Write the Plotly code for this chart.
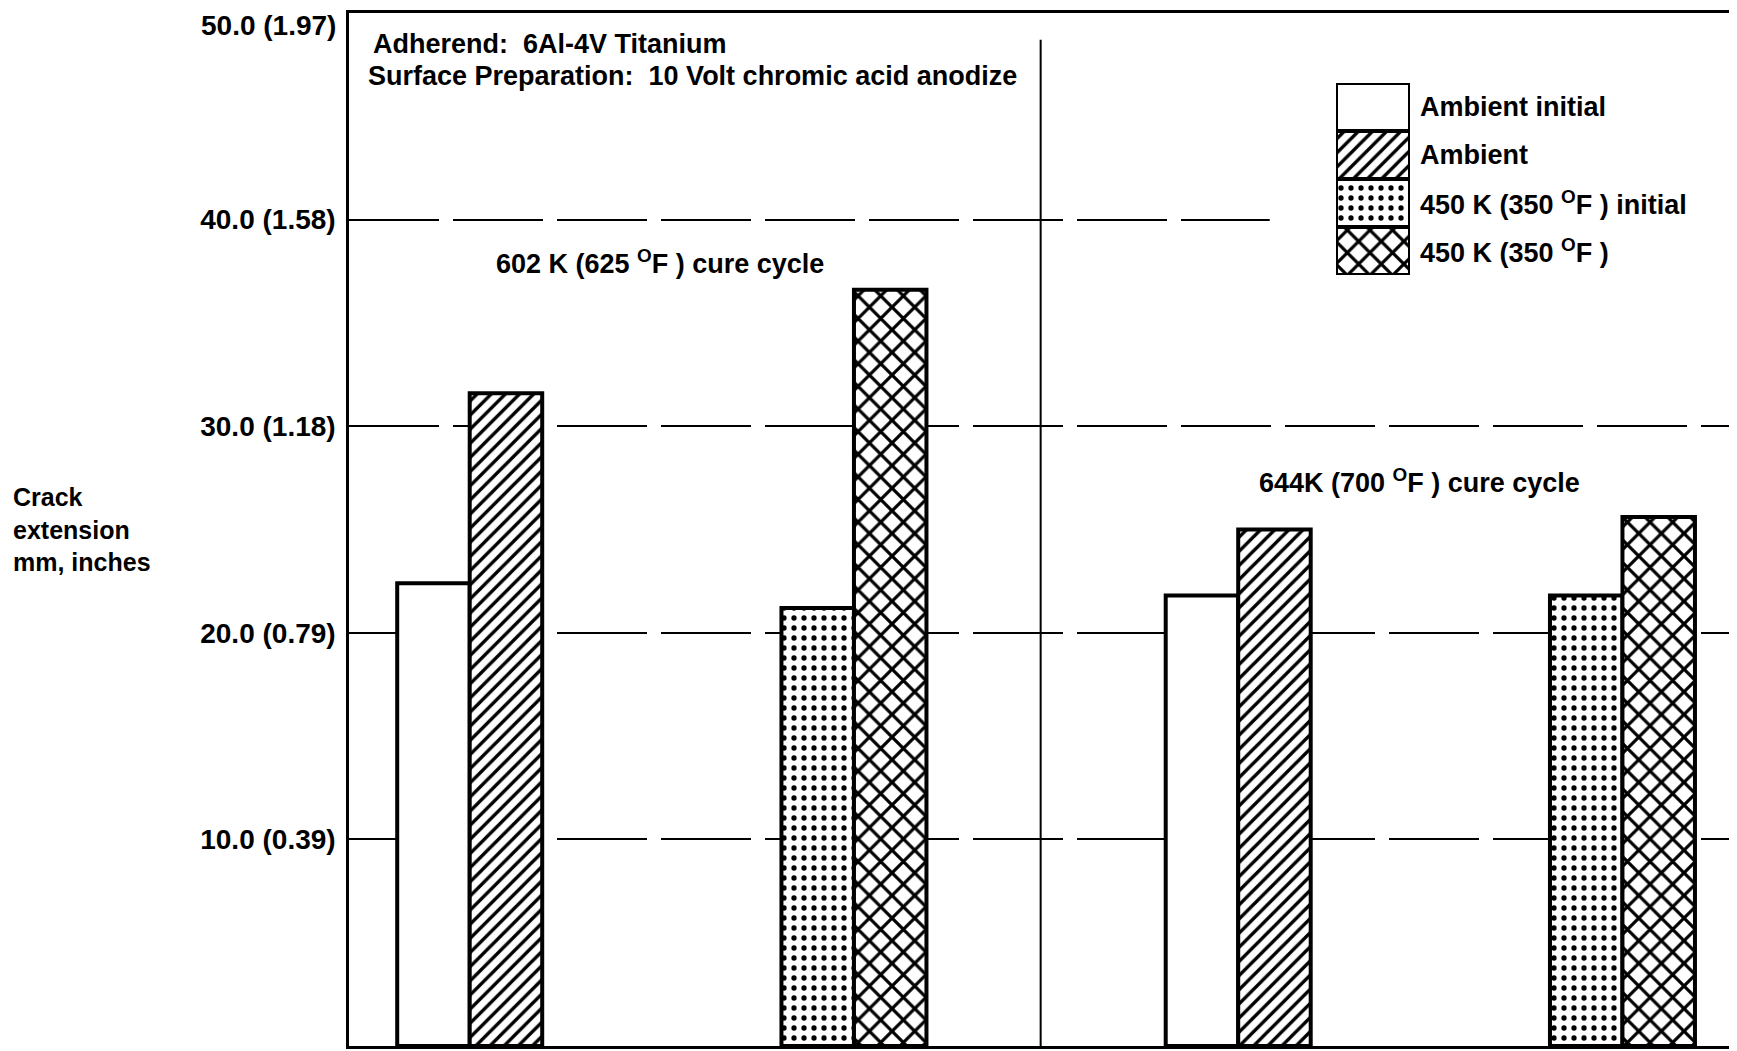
import plotly.graph_objects as go

# ---------------- data ----------------
cure_cycles = ["602 K (625 <sup>O</sup>F ) cure cycle", "644K (700 <sup>O</sup>F ) cure cycle"]
series_names = ["Ambient initial", "Ambient",
                "450 K (350 <sup>O</sup>F ) initial", "450 K (350 <sup>O</sup>F )"]
ambient_initial = [22.4, 21.8]
ambient = [31.6, 25.0]
hot_initial = [21.2, 21.8]
hot = [36.6, 25.6]
tick_vals = [10, 20, 30, 40]
tick_text = ["10.0 (0.39)", "20.0 (0.79)", "30.0 (1.18)", "40.0 (1.58)"]
top_val = 50
top_text = "50.0 (1.97)"
ytitle = "Crack<br>extension<br>mm, inches"
note1 = "Adherend:  6Al-4V Titanium"
note2 = "Surface Preparation:  10 Volt chromic acid anodize"

# ---------------- layout / style ----------------
OFF = 8                              # browser body margin
PAGE_W, PAGE_H = 1737, 1051
W, H = PAGE_W - OFF, PAGE_H - OFF
ML = 349 - OFF
MT = 5
MB = H - (1046 - OFF)
MR = 0
FONT = "Liberation Sans, Arial, sans-serif"
BW = 72.5                            # px per bar unit
XMAX = (W - ML - MR) / BW
GROUP_STEP = 5.3
FIRST = 1.165
LW = 4

patterns = [
    dict(shape="", fgcolor="black", bgcolor="white"),
    dict(shape="/", fgcolor="black", bgcolor="white", size=10, solidity=0.34, fgopacity=1),
    dict(shape=".", fgcolor="black", bgcolor="white", size=10, solidity=0.22, fgopacity=1),
    dict(shape="x", fgcolor="black", bgcolor="white", size=16, solidity=0.36, fgopacity=1),
]
series_vals = [ambient_initial, ambient, hot_initial, hot]

fig = go.Figure()

# slot = 2*cure_cycle + test_temperature ; s = initial / after test
for k, (name, vals) in enumerate(zip(series_names, series_vals)):
    t = k // 2
    s = k % 2
    xs = [FIRST + GROUP_STEP * (2 * c + t) + s for c in range(len(cure_cycles))]
    fig.add_trace(go.Bar(
        x=xs, y=vals, width=1, name=name, showlegend=False,
        marker=dict(color="white", line=dict(color="black", width=LW),
                    pattern=patterns[k]),
        xaxis="x", yaxis="y",
    ))

# custom legend swatches (stacked on an inset axis)
n = len(series_names)
for k, name in enumerate(series_names):
    fig.add_trace(go.Bar(
        x=[0], y=[1], base=[n - 1 - k], width=1, showlegend=False,
        marker=dict(color="white", line=dict(color="black", width=LW),
                    pattern=patterns[k]),
        xaxis="x2", yaxis="y2", hoverinfo="skip",
    ))

TF = dict(family=FONT, size=27, color="black", weight=700)
annotations = []
for k, name in enumerate(series_names):
    annotations.append(dict(
        x=1.0, xref="x2 domain", xshift=8, y=n - 1 - k + 0.5, yref="y2",
        text=name, showarrow=False, xanchor="left", yanchor="middle", font=TF))

annotations += [
    dict(x=0.30, y=48.64, yshift=-3, xref="x", yref="y", text=note1, showarrow=False,
         xanchor="left", yanchor="middle", font=TF),
    dict(x=0.23, y=47.1, yshift=-3, xref="x", yref="y", text=note2, showarrow=False,
         xanchor="left", yanchor="middle", font=TF),
    dict(x=FIRST + 3.13, y=38.1, yshift=-3, xref="x", yref="y", text=cure_cycles[0],
         showarrow=False, xanchor="center", yanchor="middle", font=TF),
    dict(x=FIRST + 2 * GROUP_STEP + 3.0, y=27.4, yshift=-1, xref="x", yref="y",
         text=cure_cycles[1], showarrow=False, xanchor="center", yanchor="middle", font=TF),
    dict(x=-(ML - 3) / (W - ML - MR), xref="paper", y=25.1, yshift=-2, yref="y", text=ytitle,
         showarrow=False, xanchor="left", yanchor="middle", align="left",
         font=dict(family=FONT, size=25, color="black", weight=700)),
    dict(x=0, xref="paper", xshift=-11, y=top_val, yref="y", yshift=MT, text=top_text,
         showarrow=False, xanchor="right", yanchor="top",
         font=dict(family=FONT, size=28, color="black", weight=700)),
]

sep_x = 9.54
shapes = [
    dict(type="line", xref="x", yref="y", x0=sep_x, x1=sep_x, y0=0, y1=48.7,
         line=dict(color="black", width=2)),
    dict(type="rect", xref="x", yref="y", x0=12.7, x1=XMAX + 1, y0=39.4, y1=40.6,
         fillcolor="white", line=dict(width=0), layer="between"),
]

plot_h = H - MT - MB
def ydom(page_y):
    return (H - MB - (page_y - OFF)) / plot_h
def xdom(page_x):
    return (page_x - OFF - ML) / (W - ML - MR)

fig.update_layout(
    width=W, height=H,
    margin=dict(l=ML, r=MR, t=MT, b=MB, pad=0),
    paper_bgcolor="white", plot_bgcolor="white",
    barmode="overlay",
    font=dict(family=FONT, color="black"),
    annotations=annotations, shapes=shapes,
    xaxis=dict(range=[0, XMAX], showgrid=False, zeroline=False, showticklabels=False,
               ticks="", showline=True, linecolor="black", linewidth=2.5, mirror=True,
               fixedrange=True),
    yaxis=dict(range=[0, 50], tickvals=tick_vals, ticktext=tick_text,
               tickfont=dict(family=FONT, size=28, color="black", weight=700),
               ticks="inside", ticklen=12, tickwidth=2, tickcolor="black",
               ticklabelstandoff=5,
               showline=True, linecolor="black", linewidth=2.5,
               showgrid=True, gridcolor="black", gridwidth=2, griddash="90px,14px",
               zeroline=False, fixedrange=True),
    xaxis2=dict(domain=[xdom(1336), xdom(1410)], anchor="y2",
                range=[-0.5, 0.5], visible=False, fixedrange=True),
    yaxis2=dict(domain=[ydom(275), ydom(83)], anchor="x2",
                range=[0, n], visible=False, fixedrange=True),
)

fig.write_html("out.html")
